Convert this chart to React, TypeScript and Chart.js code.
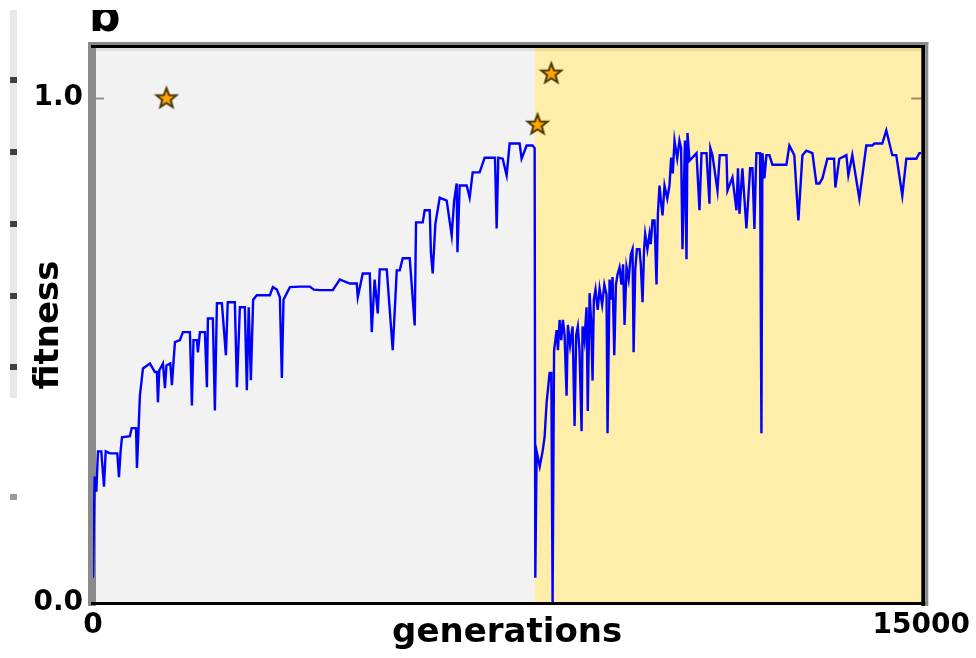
import React, { useEffect, useRef } from "react";
import { Chart, registerables } from "chart.js";

Chart.register(...registerables);

// ---- data ----
// first phase (grey background)
const leftGenerations = [
  0, 30, 60, 90, 150, 199, 230, 308, 440, 470, 500, 525, 669, 700, 780, 796, 820, 850, 905, 1031,
  1120, 1158, 1176, 1200, 1267, 1303, 1330, 1400, 1429, 1460, 1484, 1574, 1628, 1755, 1791, 1820, 1882, 1900, 1936, 2027,
  2063, 2081, 2171, 2207, 2244, 2334, 2407, 2440, 2569, 2606, 2660, 2750, 2786, 2820, 2859, 2900, 2967, 3203, 3257, 3330,
  3384, 3420, 3450, 3565, 3745, 3926, 4000, 4107, 4343, 4469, 4650, 4777, 4795, 4885, 5012, 5048, 5100, 5157, 5193, 5320,
  5428, 5501, 5555, 5609, 5736, 5826, 5850, 5971, 6007, 6098, 6120, 6152, 6200, 6279, 6405, 6496, 6540, 6586, 6600, 6640,
  6767, 6821, 6876, 7002, 7093, 7280, 7310, 7340, 7419, 7491, 7545, 7726, 7762, 7853, 7961, 7998, 8010,
];
const leftFitness = [
  0.05, 0.25, 0.22, 0.30, 0.30, 0.23, 0.30, 0.296, 0.296, 0.249, 0.30, 0.328, 0.33, 0.346, 0.346, 0.267, 0.33, 0.411, 0.464, 0.474,
  0.457, 0.457, 0.397, 0.46, 0.474, 0.425, 0.47, 0.474, 0.431, 0.48, 0.516, 0.52, 0.536, 0.536, 0.391, 0.52, 0.52, 0.496, 0.536, 0.536,
  0.427, 0.563, 0.563, 0.381, 0.593, 0.593, 0.49, 0.595, 0.595, 0.427, 0.585, 0.585, 0.421, 0.585, 0.441, 0.60, 0.609, 0.609, 0.625, 0.62,
  0.605, 0.445, 0.60, 0.625, 0.626, 0.626, 0.62, 0.619, 0.619, 0.64, 0.632, 0.632, 0.605, 0.652, 0.652, 0.536, 0.64, 0.573, 0.66, 0.66,
  0.50, 0.658, 0.658, 0.682, 0.682, 0.549, 0.753, 0.753, 0.777, 0.777, 0.692, 0.652, 0.75, 0.802, 0.796, 0.727, 0.796, 0.83, 0.694, 0.826,
  0.826, 0.802, 0.852, 0.852, 0.881, 0.881, 0.741, 0.881, 0.879, 0.846, 0.909, 0.909, 0.879, 0.905, 0.905, 0.90, 0.05,
];
// second phase (yellow background)
const rightGenerations = [
  8034, 8090, 8142, 8178, 8215, 8269, 8300, 8323, 8350, 8396,
  8420, 8450, 8480, 8510, 8540, 8576, 8600, 8640, 8685, 8721,
  8750, 8780, 8810, 8848, 8866, 8900, 8938, 8960, 8993, 9020,
  9047, 9070, 9100, 9140, 9174, 9220, 9260, 9300, 9318, 9355,
  9380, 9409, 9440, 9470, 9499, 9535, 9570, 9600, 9626, 9662,
  9700, 9740, 9771, 9790, 9820, 9850, 9897, 9920, 9952, 9980,
  10000, 10040, 10078, 10100, 10132, 10169, 10205, 10230, 10259, 10290,
  10314, 10350, 10400, 10440, 10470, 10500, 10531, 10580, 10620, 10650,
  10675, 10720, 10748, 10766, 10802, 10929, 10983, 11020, 11110, 11164,
  11180, 11218, 11309, 11350, 11472, 11490, 11580, 11653, 11680, 11707,
  11760, 11833, 11900, 11942, 11978, 12000, 12014, 12080, 12105, 12123,
  12159, 12195, 12250, 12304, 12557, 12611, 12700, 12774, 12847, 12919,
  13028, 13100, 13154, 13209, 13299, 13420, 13444, 13516, 13643, 13679,
  13751, 13878, 14004, 14113, 14149, 14294, 14366, 14475, 14547, 14656,
  14729, 14910, 14964, 15000,
];
const rightFitness = [
  0.30, 0.27, 0.30, 0.328, 0.397, 0.455, 0.455, 0.0, 0.50, 0.54,
  0.50, 0.56, 0.52, 0.56, 0.53, 0.41, 0.55, 0.51, 0.547, 0.35,
  0.53, 0.547, 0.50, 0.34, 0.547, 0.52, 0.585, 0.38, 0.613, 0.56,
  0.44, 0.60, 0.62, 0.58, 0.622, 0.59, 0.63, 0.61, 0.336, 0.64,
  0.60, 0.645, 0.49, 0.63, 0.65, 0.664, 0.63, 0.67, 0.55, 0.664,
  0.64, 0.69, 0.70, 0.496, 0.66, 0.70, 0.70, 0.67, 0.595, 0.70,
  0.73, 0.70, 0.73, 0.71, 0.757, 0.757, 0.63, 0.77, 0.826, 0.79,
  0.767, 0.826, 0.80, 0.826, 0.881, 0.85, 0.915, 0.88, 0.915, 0.90,
  0.70, 0.915, 0.68, 0.93, 0.875, 0.89, 0.777, 0.89, 0.89, 0.79,
  0.90, 0.886, 0.816, 0.886, 0.886, 0.816, 0.842, 0.777, 0.86, 0.77,
  0.86, 0.741, 0.86, 0.86, 0.74, 0.84, 0.89, 0.89, 0.336, 0.89,
  0.84, 0.886, 0.886, 0.867, 0.867, 0.905, 0.886, 0.757, 0.886, 0.895,
  0.89, 0.83, 0.83, 0.84, 0.879, 0.879, 0.822, 0.879, 0.886, 0.846,
  0.886, 0.80, 0.905, 0.905, 0.909, 0.909, 0.935, 0.886, 0.886, 0.806,
  0.879, 0.879, 0.89, 0.89,
];
const starGenerations = [1330, 8050, 8300];
const starFitness = [1.0, 0.948, 1.049];
const xTickValues = [0, 15000];
const yTickValues = [0, 1.0];
const phaseBoundary = 8000;
const xMax = 15000;
const yMax = 1.1;
const panelLabel = "b";
const xTitle = "generations";
const yTitle = "fitness";

const FONT = "'DejaVu Sans', sans-serif";

function makeStar(): HTMLCanvasElement {
  const c = document.createElement("canvas");
  const s = 26;
  c.width = s;
  c.height = s;
  const g = c.getContext("2d")!;
  const cx = s / 2;
  const cy = s / 2 + 1;
  const R = 10.5;
  const r = 4.4;
  g.beginPath();
  for (let i = 0; i < 10; i++) {
    const ang = -Math.PI / 2 + (i * Math.PI) / 5;
    const rad = i % 2 === 0 ? R : r;
    const px = cx + rad * Math.cos(ang);
    const py = cy + rad * Math.sin(ang);
    if (i === 0) g.moveTo(px, py);
    else g.lineTo(px, py);
  }
  g.closePath();
  g.fillStyle = "#ffa500";
  g.fill();
  g.lineWidth = 2;
  g.strokeStyle = "#4d3600";
  g.lineJoin = "miter";
  g.stroke();
  return c;
}

const decorPlugin = {
  id: "decor",
  beforeDraw(chart: any) {
    const { ctx, chartArea: a, scales } = chart;
    const xs = scales.x;
    const xb = xs.getPixelForValue(phaseBoundary);
    ctx.save();
    ctx.fillStyle = "#f2f2f2";
    ctx.fillRect(a.left, a.top, xb - a.left, a.bottom - a.top);
    ctx.fillStyle = "#ffedaa";
    ctx.fillRect(xb, a.top, a.right - xb, a.bottom - a.top);
    // remnant strip of neighbouring panel at far left
    ctx.fillStyle = "#e8e8e8";
    ctx.fillRect(10, 10, 7, 388);
    ctx.fillStyle = "#404040";
    [80, 152, 224, 296, 367].forEach((y) => ctx.fillRect(10, y - 3, 7, 6));
    ctx.fillStyle = "#9a9a9a";
    ctx.fillRect(10, 494, 7, 6);
    // shadow under top spine
    ctx.fillStyle = "rgba(0,0,0,0.08)";
    ctx.fillRect(a.left, a.top, a.right - a.left, 4);
    ctx.restore();
  },
  beforeDatasetsDraw(chart: any) {
    const { ctx, chartArea: a, scales } = chart;
    ctx.save();
    ctx.fillStyle = "#8a8a8a";
    ctx.fillRect(a.left - 5, a.top - 5, 8, a.bottom - a.top + 8);
    const ys = scales.y;
    ctx.strokeStyle = "rgba(0,0,0,0.4)";
    ctx.lineWidth = 2;
    yTickValues.forEach((v) => {
      if (v === 0) return;
      const y = Math.round(ys.getPixelForValue(v)) + 0.5;
      ctx.beginPath();
      ctx.moveTo(a.left + 3, y);
      ctx.lineTo(a.left + 11, y);
      ctx.moveTo(a.right - 10, y);
      ctx.lineTo(a.right, y);
      ctx.stroke();
    });
    ctx.restore();
  },
  afterDatasetsDraw(chart: any) {
    const { ctx, chartArea: a } = chart;
    ctx.save();
    ctx.fillStyle = "#8a8a8a";
    ctx.fillRect(a.left - 5, a.top - 5, a.right - a.left + 12, 3);
    ctx.fillStyle = "#000";
    ctx.fillRect(a.left - 2, a.top - 2, a.right - a.left + 6, 3);
    ctx.fillStyle = "#000";
    ctx.fillRect(a.right, a.top - 2, 4, a.bottom - a.top + 5);
    ctx.fillStyle = "#8a8a8a";
    ctx.fillRect(a.right + 4, a.top - 5, 3, a.bottom - a.top + 8);
    ctx.fillStyle = "#000";
    ctx.fillRect(a.left - 2, a.bottom - 1, a.right - a.left + 6, 3);
    ctx.restore();
  },
  afterDraw(chart: any) {
    const { ctx } = chart;
    ctx.save();
    ctx.beginPath();
    ctx.rect(0, 10, chart.width, chart.height - 10);
    ctx.clip();
    ctx.fillStyle = "#000";
    ctx.font = `bold 44px ${FONT}`;
    ctx.textBaseline = "alphabetic";
    ctx.textAlign = "left";
    ctx.fillText(panelLabel, 89, 31);
    ctx.restore();
  },
};

export default function App() {
  const ref = useRef<HTMLCanvasElement | null>(null);

  useEffect(() => {
    const canvas = ref.current;
    if (!canvas) return;
    const star = makeStar();
    const allGen = leftGenerations.concat(rightGenerations);
    const allFit = leftFitness.concat(rightFitness);
    const lineData = allGen.map((g, i) => ({ x: g, y: allFit[i] }));
    const starData = starGenerations.map((g, i) => ({ x: g, y: starFitness[i] }));

    const chart = new Chart(canvas, {
      type: "line",
      data: {
        datasets: [
          {
            type: "scatter",
            data: starData,
            pointStyle: star as any,
            pointRadius: 13,
            showLine: false,
            order: 0,
          } as any,
          {
            type: "line",
            data: lineData,
            borderColor: "#0000ff",
            borderWidth: 2.4,
            pointRadius: 0,
            tension: 0,
            fill: false,
            order: 1,
          } as any,
        ],
      },
      options: {
        responsive: false,
        animation: false,
        devicePixelRatio: 1,
        parsing: false,
        normalized: true,
        events: [],
        layout: { padding: { left: 0, top: 47, right: 53, bottom: 0 } },
        plugins: {
          legend: { display: false },
          tooltip: { enabled: false },
          title: { display: false },
        },
        scales: {
          x: {
            type: "linear",
            min: 0,
            max: xMax,
            afterBuildTicks: (s: any) => {
              s.ticks = xTickValues.map((v) => ({ value: v }));
            },
            afterFit: (s: any) => {
              s.height = 55;
            },
            grid: { display: false, drawTicks: false },
            border: { display: false },
            ticks: {
              autoSkip: false,
              maxRotation: 0,
              minRotation: 0,
              padding: 6,
              color: "#000",
              font: { family: FONT, size: 28, weight: "bold" },
              callback: (v: any) => String(v),
            },
            title: {
              display: true,
              text: xTitle,
              color: "#000",
              font: { family: FONT, size: 34, weight: "bold", lineHeight: 1 },
              padding: { top: 0, bottom: 8 },
            },
          },
          y: {
            type: "linear",
            min: 0,
            max: yMax,
            afterBuildTicks: (s: any) => {
              s.ticks = yTickValues.map((v) => ({ value: v }));
            },
            afterFit: (s: any) => {
              s.width = 93;
            },
            grid: { display: false, drawTicks: false },
            border: { display: false },
            ticks: {
              autoSkip: false,
              padding: 10,
              color: "#000",
              font: { family: FONT, size: 28, weight: "bold" },
              callback: (v: any) => Number(v).toFixed(1),
            },
            title: {
              display: true,
              text: yTitle,
              color: "#000",
              font: { family: FONT, size: 34, weight: "bold", lineHeight: 1 },
              padding: { top: 32, bottom: 0 },
            },
          },
        },
      } as any,
      plugins: [decorPlugin],
    });
    return () => chart.destroy();
  }, []);

  return (
    <div style={{ position: "fixed", left: 0, top: 0, width: 976, height: 658, background: "#fff" }}>
      <canvas ref={ref} width={976} height={658} style={{ width: 976, height: 658, display: "block" }} />
    </div>
  );
}
